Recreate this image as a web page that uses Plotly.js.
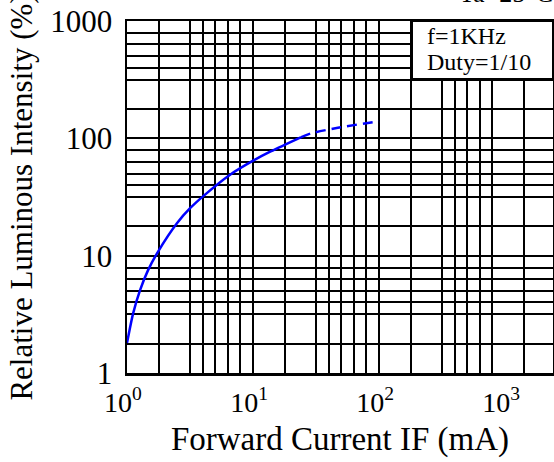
<!DOCTYPE html>
<html>
<head>
<meta charset="utf-8">
<script src="https://cdn.plot.ly/plotly-3.0.1.min.js"></script>
<style>html,body{margin:0;padding:0;background:#fff;overflow:hidden}</style>
</head>
<body>
<div id="chart" style="width:554px;height:462px"></div>
<script>
// Forward current IF (mA) vs relative luminous intensity (%)
const currentSolid   = [1, 1.12, 1.27, 1.47, 1.77, 2.5, 3.18, 4.03, 6.62, 10.1, 13.8, 23.9];
const intensitySolid = [1.8, 3.24, 5.09, 7.53, 10.9, 19.0, 25.5, 32.2, 49.2, 64.8, 77.3, 102];
const currentDashed   = [23.9, 28.7, 47.1, 100];
const intensityDashed = [102, 110, 123, 140];

// tick labels
const xLabelVals = [1, 10, 100, 1000];
const xLabelText = ['10<sup>0</sup>', '10<sup>1</sup>', '10<sup>2</sup>', '10<sup>3</sup>'];
const yLabelVals = [1, 10, 100, 1000];
const yLabelText = ['1', '10', '100', '1000'];

// grid line values as printed on the sheet
const xGridVals = [1.78, 3.16, 4, 5, 6.3, 7.9, 10, 17.8, 31.6, 40, 50, 63, 79, 100,
                   178, 316, 398, 501, 631, 794, 1410];
const yGridVals = [1.78, 3.16, 4, 5, 6.3, 7.9, 10, 17.8, 31.6, 40, 50, 63, 79, 100,
                   178, 316, 398, 501, 631, 794];

const conditionLines = ['f=1KHz', 'Duty=1/10'];
const tempNote = 'Ta=25°C';

const serif = '"Liberation Serif", "Times New Roman", Times, serif';

const traces = [
  {x: currentSolid, y: intensitySolid, type: 'scatter', mode: 'lines',
   line: {color: '#0000ff', width: 2.5, shape: 'spline', smoothing: 0.8}, hoverinfo: 'skip'},
  {x: currentDashed, y: intensityDashed, type: 'scatter', mode: 'lines',
   line: {color: '#0000ff', width: 2.5, shape: 'spline', smoothing: 0.8, dash: '10px,6px'}, hoverinfo: 'skip'}
];

const layout = {
  width: 554, height: 462,
  margin: {l: 127, r: 1, t: 21, b: 89, pad: 0},
  paper_bgcolor: '#ffffff', plot_bgcolor: '#ffffff',
  showlegend: false,
  font: {family: serif, color: '#000'},
  xaxis: {
    type: 'log', range: [0, 3.38], fixedrange: true,
    tickmode: 'array', tickvals: xLabelVals, ticktext: xLabelText,
    ticks: '', showgrid: false, zeroline: false,
    showline: true, mirror: true, linecolor: '#000', linewidth: 2.5,
    tickfont: {family: serif, size: 28, color: '#000'},
    ticklabelshift: -4, ticklabelstandoff: 3,
    minor: {tickmode: 'array', tickvals: xGridVals, showgrid: true, gridcolor: '#000', gridwidth: 2, ticks: ''},
    title: {text: 'Forward Current IF (mA)', font: {family: serif, size: 33, color: '#000'}, standoff: 10}
  },
  yaxis: {
    type: 'log', range: [0, 3], fixedrange: true,
    tickmode: 'array', tickvals: yLabelVals, ticktext: yLabelText,
    ticks: '', showgrid: false, zeroline: false,
    showline: true, mirror: true, linecolor: '#000', linewidth: 2.5,
    tickfont: {family: serif, size: 31, color: '#000'},
    ticklabelstandoff: 6,
    minor: {tickmode: 'array', tickvals: yGridVals, showgrid: true, gridcolor: '#000', gridwidth: 2, ticks: ''},
    title: {text: 'Relative Luminous Intensity (%)', font: {family: serif, size: 31, color: '#000'}, standoff: 9}
  },
  shapes: [
    {type: 'rect', xref: 'paper', yref: 'paper', x0: 0.669, x1: 1, y0: 0.835, y1: 1,
     fillcolor: '#ffffff', line: {color: '#000', width: 2}, layer: 'above'}
  ],
  annotations: [
    {xref: 'paper', yref: 'paper', x: 0.70, y: 0.9565, xanchor: 'left', yanchor: 'middle',
     text: conditionLines[0], showarrow: false, font: {family: serif, size: 24, color: '#000'}},
    {xref: 'paper', yref: 'paper', x: 0.70, y: 0.884, xanchor: 'left', yanchor: 'middle',
     text: conditionLines[1], showarrow: false, font: {family: serif, size: 24, color: '#000'}},
    {xref: 'paper', yref: 'paper', x: 0.775, y: 1, xanchor: 'left', yanchor: 'bottom', yshift: 11,
     text: tempNote, showarrow: false, font: {family: serif, size: 26, color: '#000'}}
  ]
};

Plotly.newPlot('chart', traces, layout, {displayModeBar: false, staticPlot: true});
</script>
</body>
</html>
